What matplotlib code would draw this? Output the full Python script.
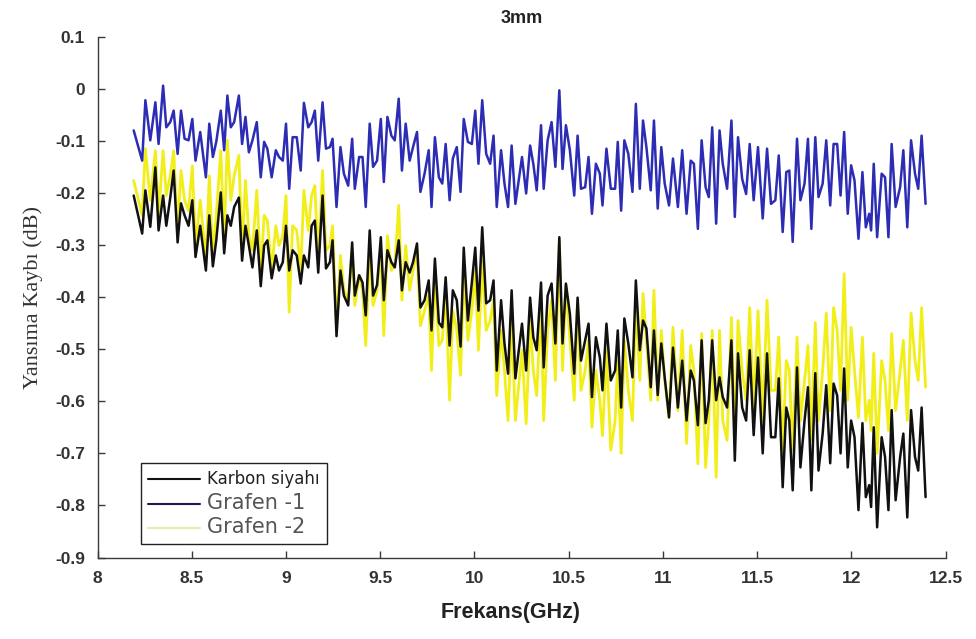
import numpy as np
import matplotlib
matplotlib.use("Agg")
import matplotlib.pyplot as plt

# ---- data ----
freq = [
    8.192, 8.237, 8.254, 8.280, 8.307, 8.324, 8.348, 8.365, 8.386, 8.404,
    8.425, 8.443, 8.462, 8.483, 8.503, 8.520, 8.545, 8.575, 8.593, 8.612,
    8.630, 8.654, 8.672, 8.689, 8.707, 8.725, 8.750, 8.767, 8.785, 8.803,
    8.822, 8.845, 8.866, 8.884, 8.901, 8.924, 8.946, 8.963, 8.983, 9.000,
    9.017, 9.035, 9.057, 9.078, 9.095, 9.118, 9.136, 9.153, 9.171, 9.194,
    9.212, 9.233, 9.247, 9.268, 9.289, 9.307, 9.330, 9.351, 9.365, 9.388,
    9.406, 9.423, 9.444, 9.462, 9.483, 9.503, 9.519, 9.538, 9.559, 9.577,
    9.598, 9.615, 9.635, 9.656, 9.674, 9.695, 9.713, 9.735, 9.757, 9.772,
    9.790, 9.811, 9.829, 9.847, 9.868, 9.885, 9.906, 9.926, 9.943, 9.965,
    9.986, 10.004, 10.021, 10.041, 10.062, 10.083, 10.101, 10.118, 10.141, 10.159,
    10.178, 10.197, 10.217, 10.252, 10.274, 10.295, 10.312, 10.330, 10.353, 10.367,
    10.388, 10.409, 10.429, 10.450, 10.467, 10.485, 10.506, 10.529, 10.547, 10.565,
    10.587, 10.605, 10.623, 10.644, 10.665, 10.679, 10.700, 10.723, 10.746, 10.760,
    10.778, 10.795, 10.816, 10.838, 10.856, 10.877, 10.894, 10.912, 10.935, 10.952,
    10.972, 10.991, 11.009, 11.032, 11.053, 11.079, 11.102, 11.125, 11.147, 11.164,
    11.185, 11.205, 11.226, 11.243, 11.261, 11.282, 11.300, 11.317, 11.340, 11.363,
    11.381, 11.398, 11.420, 11.441, 11.460, 11.481, 11.504, 11.529, 11.552, 11.573,
    11.596, 11.614, 11.635, 11.654, 11.670, 11.688, 11.711, 11.729, 11.751, 11.769,
    11.787, 11.808, 11.825, 11.847, 11.866, 11.887, 11.905, 11.924, 11.942, 11.961,
    11.980, 11.998, 12.016, 12.037, 12.058, 12.076, 12.094, 12.104, 12.118, 12.136,
    12.160, 12.178, 12.196, 12.213, 12.234, 12.258, 12.275, 12.296, 12.316, 12.337,
    12.354, 12.372, 12.393,
]

grafen1 = [
    -0.080, -0.138, -0.022, -0.099, -0.026, -0.106, 0.006, -0.074, -0.064, -0.042,
    -0.125, -0.042, -0.096, -0.099, -0.058, -0.138, -0.083, -0.170, -0.067, -0.131,
    -0.102, -0.042, -0.118, -0.013, -0.074, -0.064, -0.013, -0.106, -0.054, -0.122,
    -0.099, -0.064, -0.170, -0.102, -0.115, -0.170, -0.118, -0.131, -0.138, -0.067,
    -0.192, -0.093, -0.093, -0.157, -0.027, -0.074, -0.064, -0.042, -0.138, -0.026,
    -0.115, -0.112, -0.096, -0.227, -0.112, -0.163, -0.186, -0.096, -0.192, -0.131,
    -0.131, -0.227, -0.067, -0.150, -0.138, -0.058, -0.179, -0.054, -0.090, -0.099,
    -0.019, -0.157, -0.067, -0.138, -0.112, -0.083, -0.198, -0.163, -0.118, -0.227,
    -0.093, -0.170, -0.182, -0.106, -0.214, -0.134, -0.112, -0.198, -0.058, -0.102,
    -0.106, -0.042, -0.144, -0.022, -0.125, -0.144, -0.090, -0.227, -0.118, -0.182,
    -0.227, -0.109, -0.221, -0.131, -0.201, -0.109, -0.144, -0.195, -0.070, -0.192,
    -0.099, -0.064, -0.150, -0.003, -0.154, -0.070, -0.118, -0.205, -0.090, -0.192,
    -0.189, -0.131, -0.240, -0.144, -0.163, -0.224, -0.115, -0.192, -0.192, -0.102,
    -0.234, -0.099, -0.125, -0.198, -0.029, -0.192, -0.061, -0.112, -0.195, -0.061,
    -0.230, -0.112, -0.182, -0.224, -0.134, -0.227, -0.118, -0.240, -0.138, -0.144,
    -0.269, -0.099, -0.189, -0.208, -0.074, -0.259, -0.080, -0.144, -0.192, -0.061,
    -0.246, -0.093, -0.173, -0.202, -0.106, -0.214, -0.112, -0.249, -0.115, -0.221,
    -0.214, -0.128, -0.275, -0.160, -0.157, -0.294, -0.096, -0.214, -0.182, -0.096,
    -0.269, -0.093, -0.208, -0.182, -0.099, -0.224, -0.106, -0.106, -0.205, -0.083,
    -0.240, -0.147, -0.176, -0.288, -0.160, -0.266, -0.240, -0.272, -0.144, -0.285,
    -0.163, -0.170, -0.285, -0.106, -0.227, -0.189, -0.118, -0.266, -0.099, -0.163,
    -0.192, -0.090, -0.221,
]

karbon = [
    -0.205, -0.278, -0.195, -0.265, -0.151, -0.272, -0.205, -0.263, -0.209, -0.157,
    -0.295, -0.220, -0.243, -0.263, -0.214, -0.323, -0.263, -0.349, -0.243, -0.341,
    -0.291, -0.199, -0.316, -0.243, -0.263, -0.227, -0.209, -0.330, -0.263, -0.301,
    -0.343, -0.272, -0.379, -0.301, -0.291, -0.364, -0.320, -0.349, -0.333, -0.263,
    -0.349, -0.310, -0.320, -0.374, -0.320, -0.343, -0.263, -0.253, -0.353, -0.205,
    -0.345, -0.333, -0.291, -0.475, -0.349, -0.397, -0.416, -0.295, -0.397, -0.358,
    -0.372, -0.435, -0.272, -0.397, -0.377, -0.285, -0.406, -0.310, -0.333, -0.343,
    -0.291, -0.387, -0.333, -0.353, -0.333, -0.297, -0.420, -0.406, -0.368, -0.464,
    -0.326, -0.449, -0.458, -0.362, -0.493, -0.387, -0.406, -0.495, -0.305, -0.445,
    -0.372, -0.305, -0.426, -0.266, -0.412, -0.406, -0.368, -0.541, -0.406, -0.489,
    -0.547, -0.387, -0.556, -0.451, -0.541, -0.401, -0.477, -0.502, -0.372, -0.535,
    -0.397, -0.374, -0.489, -0.285, -0.489, -0.374, -0.432, -0.547, -0.401, -0.522,
    -0.483, -0.451, -0.592, -0.477, -0.516, -0.579, -0.451, -0.560, -0.541, -0.464,
    -0.612, -0.441, -0.489, -0.554, -0.368, -0.502, -0.445, -0.460, -0.573, -0.464,
    -0.588, -0.489, -0.554, -0.631, -0.497, -0.612, -0.522, -0.637, -0.541, -0.560,
    -0.646, -0.483, -0.642, -0.598, -0.483, -0.598, -0.554, -0.592, -0.612, -0.483,
    -0.714, -0.508, -0.612, -0.637, -0.502, -0.665, -0.516, -0.700, -0.508, -0.669,
    -0.669, -0.556, -0.765, -0.612, -0.637, -0.771, -0.535, -0.727, -0.637, -0.573,
    -0.771, -0.546, -0.733, -0.662, -0.569, -0.719, -0.566, -0.589, -0.700, -0.537,
    -0.727, -0.637, -0.669, -0.809, -0.642, -0.784, -0.761, -0.803, -0.650, -0.842,
    -0.669, -0.707, -0.809, -0.617, -0.790, -0.707, -0.662, -0.823, -0.617, -0.707,
    -0.733, -0.612, -0.784,
]

grafen2 = [
    -0.176, -0.243, -0.115, -0.214, -0.119, -0.243, -0.119, -0.205, -0.167, -0.119,
    -0.272, -0.157, -0.214, -0.234, -0.148, -0.301, -0.214, -0.330, -0.167, -0.320,
    -0.243, -0.119, -0.291, -0.099, -0.214, -0.167, -0.128, -0.310, -0.176, -0.282,
    -0.310, -0.195, -0.358, -0.243, -0.253, -0.349, -0.263, -0.301, -0.282, -0.205,
    -0.429, -0.263, -0.272, -0.349, -0.195, -0.272, -0.205, -0.186, -0.330, -0.157,
    -0.310, -0.301, -0.263, -0.464, -0.320, -0.387, -0.406, -0.310, -0.416, -0.358,
    -0.387, -0.493, -0.310, -0.416, -0.387, -0.310, -0.474, -0.282, -0.349, -0.339,
    -0.224, -0.406, -0.301, -0.387, -0.349, -0.310, -0.455, -0.426, -0.397, -0.541,
    -0.349, -0.493, -0.483, -0.387, -0.598, -0.426, -0.464, -0.550, -0.349, -0.483,
    -0.426, -0.349, -0.502, -0.330, -0.464, -0.445, -0.406, -0.589, -0.464, -0.541,
    -0.637, -0.445, -0.637, -0.502, -0.643, -0.445, -0.541, -0.589, -0.406, -0.637,
    -0.464, -0.406, -0.560, -0.291, -0.541, -0.377, -0.483, -0.598, -0.406, -0.579,
    -0.541, -0.483, -0.650, -0.541, -0.598, -0.666, -0.502, -0.694, -0.637, -0.522,
    -0.700, -0.483, -0.579, -0.637, -0.406, -0.560, -0.393, -0.483, -0.598, -0.387,
    -0.598, -0.464, -0.560, -0.631, -0.458, -0.618, -0.464, -0.681, -0.493, -0.541,
    -0.720, -0.470, -0.727, -0.637, -0.464, -0.746, -0.464, -0.637, -0.675, -0.439,
    -0.681, -0.445, -0.541, -0.598, -0.420, -0.618, -0.426, -0.637, -0.406, -0.579,
    -0.579, -0.477, -0.700, -0.522, -0.541, -0.694, -0.477, -0.637, -0.560, -0.493,
    -0.675, -0.449, -0.637, -0.541, -0.431, -0.618, -0.420, -0.464, -0.579, -0.355,
    -0.598, -0.458, -0.541, -0.631, -0.477, -0.637, -0.598, -0.656, -0.508, -0.700,
    -0.522, -0.560, -0.656, -0.470, -0.618, -0.541, -0.483, -0.637, -0.431, -0.522,
    -0.560, -0.420, -0.573,
]

xticks = [8, 8.5, 9, 9.5, 10, 10.5, 11, 11.5, 12, 12.5]
xticklabels = ["8", "8.5", "9", "9.5", "10", "10.5", "11", "11.5", "12", "12.5"]
yticks = [0.1, 0, -0.1, -0.2, -0.3, -0.4, -0.5, -0.6, -0.7, -0.8, -0.9]
yticklabels = ["0.1", "0", "-0.1", "-0.2", "-0.3", "-0.4", "-0.5", "-0.6", "-0.7", "-0.8", "-0.9"]

labels = ["Karbon siyahı", "Grafen -1", "Grafen -2"]

# ---- figure ----
fig = plt.figure(figsize=(9.76, 6.39), dpi=100)
ax = fig.add_axes([0.0999, 0.1275, 0.8691, 0.8151])

line_kw = dict(solid_joinstyle="round", solid_capstyle="round")
l1, = ax.plot(freq, karbon, color="#111111", lw=1.8, zorder=3, **line_kw)
l3, = ax.plot(freq, grafen2, color="#f2ee18", lw=2.0, zorder=2, **line_kw)
l2, = ax.plot(freq, grafen1, color="#2c2cb4", lw=1.8, zorder=4, **line_kw)

ax.set_xlim(8, 12.5)
ax.set_ylim(-0.9, 0.1)
ax.set_xticks(xticks)
ax.set_xticklabels(xticklabels)
ax.set_yticks(yticks)
ax.set_yticklabels(yticklabels)

for s in ["top", "right"]:
    ax.spines[s].set_visible(False)
for s in ["left", "bottom"]:
    ax.spines[s].set_color("#3a3a3a")
    ax.spines[s].set_linewidth(1.0)

ax.tick_params(direction="in", length=5, width=1, colors="#3a3a3a")
ax.tick_params(axis="x", pad=10)
ax.tick_params(axis="y", pad=9)
for t in ax.get_xticklabels() + ax.get_yticklabels():
    t.set_fontfamily("Liberation Sans")
    t.set_fontweight("bold")
    t.set_fontsize(12.5)
    t.set_color("#333333")

ax.set_title("3mm", fontfamily="Liberation Sans", fontweight="bold",
             fontsize=13, color="#222222", pad=10)
ax.set_xlabel("Frekans(GHz)", fontfamily="Liberation Sans", fontweight="bold",
              fontsize=15.5, color="#222222")
ax.xaxis.set_label_coords(0.487, -0.085)
ax.set_ylabel("Yansıma Kaybı (dB)", fontfamily="Liberation Serif",
              fontsize=16, color="#333333")
ax.yaxis.set_label_coords(-0.064, 0.50)

leg = ax.legend([l1, l2, l3], labels, loc="lower left",
                bbox_to_anchor=(0.0513, 0.0253), borderaxespad=0,
                fancybox=False, edgecolor="#222222", framealpha=1,
                handlelength=3.4, handletextpad=0.5, borderpad=0.45,
                labelspacing=0.3, prop={"family": "DejaVu Sans", "size": 11})
leg.get_frame().set_linewidth(1.0)
texts = leg.get_texts()
texts[0].set_fontsize(12)
texts[0].set_color("#222222")
for t in texts[1:]:
    t.set_fontsize(15)
    t.set_color("#555555")
leg.get_lines()[0].set_color("#111111")
leg.get_lines()[1].set_color("#1a1a50")
leg.get_lines()[2].set_color("#e4ecb0")
for ln in leg.get_lines():
    ln.set_linewidth(1.5)

fig.savefig("out.png", dpi=100)
